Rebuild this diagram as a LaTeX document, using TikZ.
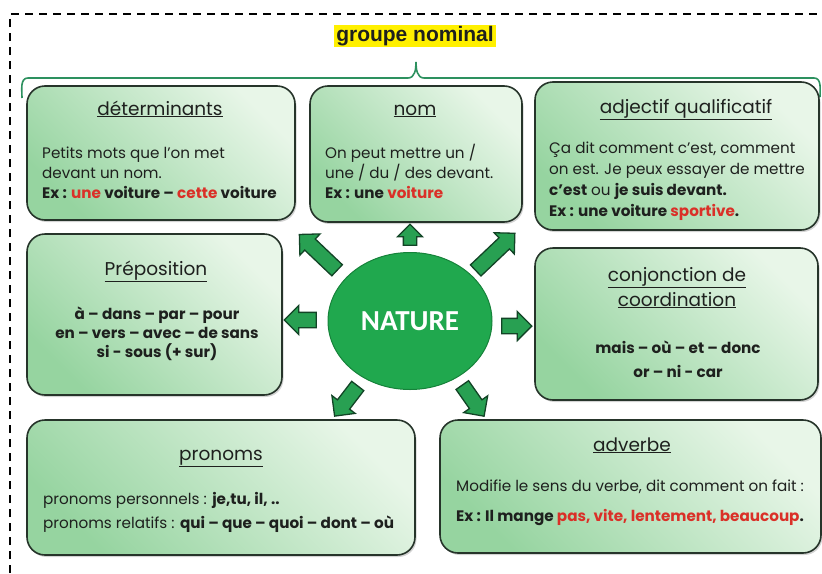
\documentclass[tikz,border=0pt]{standalone}
\usepackage{fontspec}
\setmainfont{Poppins}
\newfontfamily\headfont{Liberation Sans}
\newfontfamily\natfont{Carlito}
\usetikzlibrary{shapes.geometric,shapes.arrows,shadows}
\definecolor{boxline}{RGB}{38,52,42}
\definecolor{boxlight}{RGB}{232,246,232}
\definecolor{boxdark}{RGB}{150,212,160}
\definecolor{ink}{RGB}{30,32,30}
\definecolor{redword}{RGB}{218,48,40}
\definecolor{hiyellow}{RGB}{255,240,0}
\definecolor{bracegreen}{RGB}{45,145,95}
\definecolor{natgreen}{RGB}{32,168,78}
\definecolor{natedge}{RGB}{22,130,58}
\definecolor{arrowfill}{RGB}{40,160,82}
\definecolor{arrowedge}{RGB}{18,68,38}
\newcommand{\rw}[1]{\textcolor{redword}{#1}}
\newcommand{\bodyfont}{\fontsize{15.2}{18}\selectfont}
\newcommand{\titfont}{\fontsize{18.5}{22}\selectfont}
\begin{document}
\begin{tikzpicture}[x=1pt,y=-1pt,
  catbox/.style={draw=boxline, line width=1.6pt, rounded corners=18pt,
    top color=boxlight, bottom color=boxdark, shading angle=-45,
    drop shadow={shadow xshift=1.5pt, shadow yshift=-2pt, opacity=0.35},
    inner sep=0pt},
  ltxt/.style={inner sep=0pt, anchor=base west, font=\bodyfont, text=ink},
  ctxt/.style={inner sep=0pt, anchor=base, font=\bodyfont, text=ink},
  ttl/.style={inner sep=0pt, anchor=base, font=\titfont, text=ink},
  barrow/.style={single arrow, draw=arrowedge, fill=arrowfill, line width=1.3pt,
    single arrow head extend=7pt, single arrow head indent=0pt,
    inner xsep=0pt, inner ysep=7pt},
  frame/.style={line width=1.6pt, dash pattern=on 8pt off 6pt, draw=black}]
\useasboundingbox (0,0) rectangle (822,573);
% dashed frame
\draw[frame] (10,573) -- (10,14) -- (822,14);
% title
\node[fill=hiyellow, inner xsep=2pt, inner ysep=1pt, font=\headfont\bfseries\fontsize{21}{24}\selectfont, text=ink] (gn) at (415,36) {groupe nominal};
% brace
\draw[bracegreen, line width=1.6pt] (22,98) to[out=90,in=180] (28,78) -- (408,78) to[out=0,in=270] (416,62);
\draw[bracegreen, line width=1.6pt] (416,62) to[out=270,in=180] (424,78) -- (814,78) to[out=0,in=90] (820,97);
% boxes
\node[catbox, minimum width=268pt, minimum height=134pt] (det) at (161,153) {};
\node[catbox, minimum width=212pt, minimum height=136pt] (nom) at (416,154) {};
\node[catbox, minimum width=284pt, minimum height=148pt] (adj) at (677,156) {};
\node[catbox, minimum width=255pt, minimum height=161pt] (prep) at (154.5,314.5) {};
\node[catbox, minimum width=283pt, minimum height=152pt] (conj) at (676.5,324) {};
\node[catbox, minimum width=388pt, minimum height=135pt] (pron) at (221,487.5) {};
\node[catbox, minimum width=381pt, minimum height=133pt] (adv) at (630.5,486.5) {};
% déterminants
\node[ttl] (detT) at (160,115) {\underline{déterminants}};
\node[ltxt] (det1) at (42,158) {Petits mots que l’on met};
\node[ltxt] (det2) at (42,178) {devant un nom.};
\node[ltxt] (det3) at (42,198) {\bfseries Ex : \rw{une} voiture – \rw{cette} voiture};
% nom
\node[ttl] (nomT) at (415,115) {\underline{nom}};
\node[ltxt] (nom1) at (325,158) {On peut mettre un /};
\node[ltxt] (nom2) at (325,178) {une / du / des devant.};
\node[ltxt] (nom3) at (325,198) {\bfseries Ex : une \rw{voiture}};
% adjectif
\node[ttl] (adjT) at (686,113) {\underline{adjectif qualificatif}};
\node[ltxt] (adj1) at (549,153) {Ça dit comment c’est, comment};
\node[ltxt] (adj2) at (549,174) {on est. Je peux essayer de mettre};
\node[ltxt] (adj3) at (549,195) {\textbf{c’est} ou \textbf{je suis devant.}};
\node[ltxt] (adj4) at (549,216) {\bfseries Ex : une voiture \rw{sportive}.};
% préposition
\node[ttl] (prepT) at (156,275) {\underline{Préposition}};
\node[ctxt] (prep1) at (157,319) {\bfseries à – dans – par – pour};
\node[ctxt] (prep2) at (157,338) {\bfseries en – vers – avec – de sans};
\node[ctxt] (prep3) at (157,357) {\bfseries si - sous (+ sur)};
% conjonction
\node[ttl] (conjT1) at (677,281) {\underline{conjonction de}};
\node[ttl] (conjT2) at (677,306) {\underline{coordination}};
\node[ctxt] (conj1) at (678,353) {\bfseries mais – où – et – donc};
\node[ctxt] (conj2) at (678,377) {\bfseries or – ni - car};
% pronoms
\node[ttl] (pronT) at (221,460) {\underline{pronoms}};
\node[ltxt] (pron1) at (43,504) {pronoms personnels : \textbf{je,tu, il, ..}};
\node[ltxt] (pron2) at (43,528) {pronoms relatifs : \textbf{qui – que – quoi – dont – où}};
% adverbe
\node[ttl] (advT) at (632,451) {\underline{adverbe}};
\node[ltxt] (adv1) at (456,491) {Modifie le sens du verbe, dit comment on fait :};
\node[ltxt] (adv2) at (456,521) {\bfseries Ex : Il mange \rw{pas, vite, lentement, beaucoup}.};
% centre
\node[ellipse, minimum width=164pt, minimum height=137pt, fill=natgreen, draw=natedge, line width=1pt, inner sep=0pt,
  font=\natfont\bfseries\fontsize{29}{32}\selectfont, text=white] (nat) at (410,321) {NATURE};
% arrows
\node[barrow, minimum height=21pt, inner ysep=6pt, single arrow head extend=6pt, rotate=90] (aN) at (410,238) {};
\node[barrow, minimum height=52pt, rotate=136.5] (aNW) at (321,255) {};
\node[barrow, minimum height=54pt, rotate=43.5] (aNE) at (492.5,254.5) {};
\node[barrow, minimum height=32pt, rotate=180] (aW) at (304,320) {};
\node[barrow, minimum height=30pt, rotate=0] (aE) at (513,326) {};
\node[barrow, minimum height=38pt, rotate=232.5] (aSW) at (348.5,398) {};
\node[barrow, minimum height=38pt, rotate=305] (aSE) at (471,397.5) {};
\end{tikzpicture}
\end{document}
